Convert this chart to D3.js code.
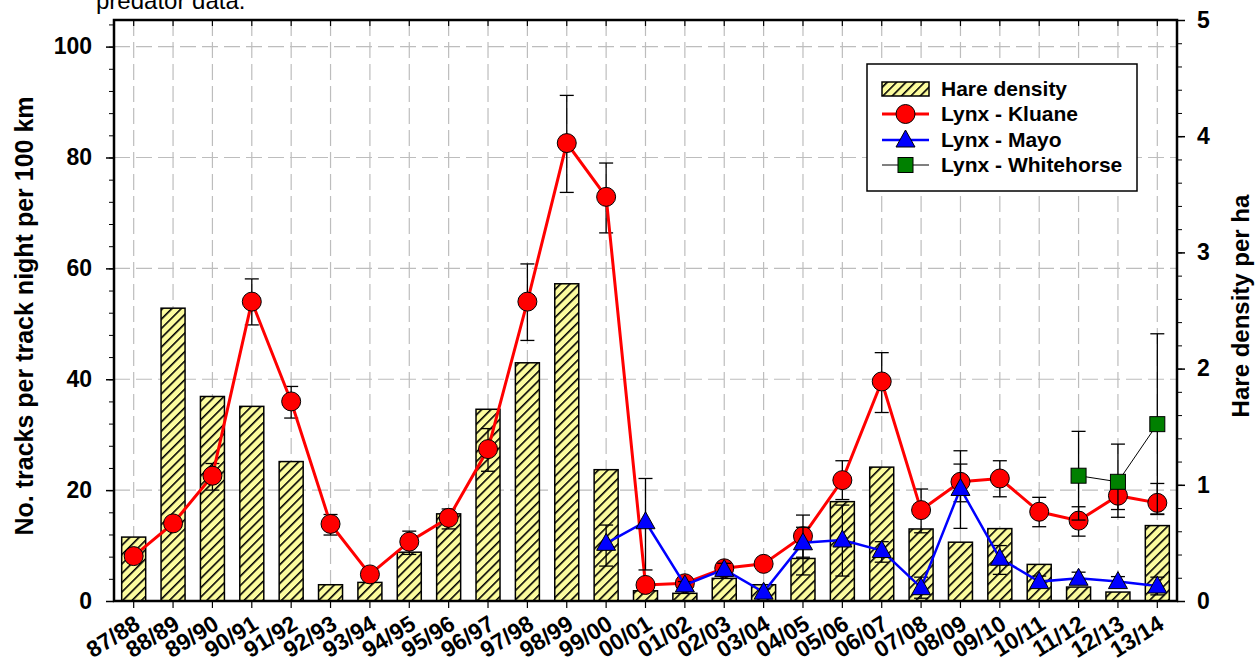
<!DOCTYPE html>
<html>
<head>
<meta charset="utf-8">
<script src="https://cdn.jsdelivr.net/npm/d3@7"></script>
<style>
  body { margin: 0; background: #fff; }
  text { font-family: "Liberation Sans", Arial, sans-serif; }
</style>
</head>
<body>
<div class="chart"></div>
<script>
// seasons along the x axis
var seasons = ["87/88", "88/89", "89/90", "90/91", "91/92", "92/93", "93/94", "94/95", "95/96",
  "96/97", "97/98", "98/99", "99/00", "00/01", "01/02", "02/03", "03/04", "04/05", "05/06",
  "06/07", "07/08", "08/09", "09/10", "10/11", "11/12", "12/13", "13/14"];

// hare density per ha (right axis, bars)
var hareDensity = [0.55, 2.52, 1.76, 1.675, 1.20, 0.14, 0.16, 0.42, 0.75, 1.65, 2.05, 2.73, 1.13,
  0.088, 0.066, 0.195, 0.14, 0.366, 0.855, 1.152, 0.62, 0.506, 0.623, 0.315, 0.12, 0.077, 0.649];

// lynx tracks per track night per 100 km (left axis)
var kluane = [8.1, 14.0, 22.6, 54.0, 36.0, 13.9, 4.8, 10.7, 15.0, 27.4, 54.0, 82.6, 72.9,
  2.9, 3.2, 5.9, 6.7, 11.7, 21.8, 39.6, 16.4, 21.5, 22.1, 16.1, 14.5, 19.0, 17.7];
var kluaneHi = [8.8, 14.8, 24.8, 58.1, 38.7, 15.6, 5.4, 12.6, 16.6, 31.1, 60.8, 91.2, 79.0,
  3.5, 3.8, 6.8, 7.3, 15.5, 25.3, 44.8, 20.2, 24.7, 25.3, 18.7, 17.0, 21.5, 21.2];
var kluaneLo = [7.4, 13.2, 20.0, 49.8, 33.0, 11.9, 4.2, 8.4, 13.0, 23.4, 47.0, 73.7, 66.4,
  2.3, 2.6, 4.9, 6.1, 7.9, 18.3, 34.0, 12.3, 17.9, 18.8, 13.4, 11.7, 16.5, 15.7];

var mayoSeasons = ["99/00", "00/01", "01/02", "02/03", "03/04", "04/05", "05/06", "06/07",
  "07/08", "08/09", "09/10", "10/11", "11/12", "12/13", "13/14"];
var mayo = [10.4, 14.3, 2.9, 5.7, 1.6, 10.5, 11.0, 9.1, 2.4, 20.3, 7.7, 3.5, 4.1, 3.5, 2.7];
var mayoHi = [13.7, 22.1, 3.5, 6.8, 2.2, 13.3, 17.3, 10.7, 4.3, 27.1, 10.0, 4.5, 5.2, 4.4, 4.3];
var mayoLo = [6.3, 5.6, 2.3, 4.6, 1.0, 4.7, 4.5, 7.0, 0.5, 13.1, 4.8, 2.5, 3.0, 2.6, 1.1];

var whitehorseSeasons = ["11/12", "12/13", "13/14"];
var whitehorse = [22.6, 21.5, 31.9];
var whitehorseHi = [30.6, 28.3, 48.2];
var whitehorseLo = [14.6, 15.1, 15.6];

var leftTicks = [0, 20, 40, 60, 80, 100];
var rightTicks = [0, 1, 2, 3, 4, 5];

var svgWidth = 1259;
var svgHeight = 658;
var margin = { top: 20, right: 82, bottom: 57, left: 114 };
var width = svgWidth - margin.left - margin.right;
var height = svgHeight - margin.top - margin.bottom;

var svg = d3.select(".chart")
  .append("svg")
  .attr("width", svgWidth)
  .attr("height", svgHeight);

// hatch pattern for the hare bars
var pattern = svg.append("defs").append("pattern")
  .attr("id", "hatch")
  .attr("patternUnits", "userSpaceOnUse")
  .attr("width", 6.6)
  .attr("height", 6.6)
  .attr("patternTransform", "rotate(45)");
pattern.append("rect").attr("width", 6.6).attr("height", 6.6).attr("fill", "#fcfc9e");
pattern.append("line").attr("x1", 0.8).attr("y1", 0).attr("x2", 0.8).attr("y2", 6.6)
  .attr("stroke", "#000").attr("stroke-width", 1.6);

// cut-off caption at the top
svg.append("text")
  .attr("x", 96)
  .attr("y", 9)
  .style("font-size", "24px")
  .text("predator data.");

var chart = svg.append("g")
  .attr("transform", "translate(" + margin.left + "," + margin.top + ")");

var x = d3.scaleBand().domain(seasons).range([0, width]).padding(0);
var yLeft = d3.scaleLinear().domain([0, 104.8]).range([height, 0]);
var yRight = d3.scaleLinear().domain([0, 5]).range([height, 0]);
var cx = function (s) { return x(s) + x.bandwidth() / 2; };

// dashed grid
chart.append("g").selectAll("line")
  .data(seasons)
  .enter().append("line")
  .attr("x1", cx).attr("x2", cx)
  .attr("y1", 0).attr("y2", height)
  .attr("stroke", "#bdbdbd").attr("stroke-width", 1.2)
  .attr("stroke-dasharray", "16,6");
chart.append("g").selectAll("line")
  .data(leftTicks.slice(1))
  .enter().append("line")
  .attr("x1", 0).attr("x2", width)
  .attr("y1", yLeft).attr("y2", yLeft)
  .attr("stroke", "#bdbdbd").attr("stroke-width", 1.2)
  .attr("stroke-dasharray", "16,6");

// hare bars
var barW = 24;
chart.append("g").selectAll("rect")
  .data(hareDensity)
  .enter().append("rect")
  .attr("x", function (d, i) { return cx(seasons[i]) - barW / 2; })
  .attr("y", function (d) { return yRight(d); })
  .attr("width", barW)
  .attr("height", function (d) { return height - yRight(d); })
  .attr("fill", "url(#hatch)")
  .attr("stroke", "#000")
  .attr("stroke-width", 1.5);

// draws one lynx series: error bars, line, markers
function drawSeries(keys, vals, hi, lo, lineColor, lineWidth, marker) {
  var g = chart.append("g");
  var pts = keys.map(function (k, i) { return { k: k, v: vals[i], hi: hi[i], lo: lo[i] }; });
  var cap = 7;
  pts.forEach(function (p) {
    var px = cx(p.k);
    g.append("line").attr("x1", px).attr("x2", px)
      .attr("y1", yLeft(p.hi)).attr("y2", yLeft(p.lo))
      .attr("stroke", "#000").attr("stroke-width", 1.3);
    [p.hi, p.lo].forEach(function (e) {
      g.append("line").attr("x1", px - cap).attr("x2", px + cap)
        .attr("y1", yLeft(e)).attr("y2", yLeft(e))
        .attr("stroke", "#000").attr("stroke-width", 1.3);
    });
  });
  g.append("path")
    .datum(pts)
    .attr("fill", "none")
    .attr("stroke", lineColor)
    .attr("stroke-width", lineWidth)
    .attr("d", d3.line().x(function (p) { return cx(p.k); }).y(function (p) { return yLeft(p.v); }));
  pts.forEach(function (p) {
    marker(g, cx(p.k), yLeft(p.v));
  });
}

function circleMarker(g, px, py) {
  g.append("circle").attr("cx", px).attr("cy", py).attr("r", 9.5)
    .attr("fill", "#ff0000").attr("stroke", "#000").attr("stroke-width", 1);
}
function triangleMarker(g, px, py) {
  g.append("path")
    .attr("d", "M" + px + "," + (py - 10) + "L" + (px + 9.5) + "," + (py + 7) + "L" + (px - 9.5) + "," + (py + 7) + "Z")
    .attr("fill", "#0000ff").attr("stroke", "#000").attr("stroke-width", 1);
}
function squareMarker(g, px, py) {
  g.append("rect").attr("x", px - 7.5).attr("y", py - 7.5).attr("width", 15).attr("height", 15)
    .attr("fill", "#008000").attr("stroke", "#000").attr("stroke-width", 1);
}

drawSeries(seasons, kluane, kluaneHi, kluaneLo, "#ff0000", 3, circleMarker);
drawSeries(mayoSeasons, mayo, mayoHi, mayoLo, "#0000ff", 2.5, triangleMarker);
drawSeries(whitehorseSeasons, whitehorse, whitehorseHi, whitehorseLo, "#000", 1, squareMarker);

// frame
chart.append("rect")
  .attr("width", width).attr("height", height)
  .attr("fill", "none").attr("stroke", "#000").attr("stroke-width", 2.5);

// left axis
var leftAxis = d3.axisLeft(yLeft).tickValues(leftTicks).tickSize(8).tickPadding(14).tickFormat(d3.format("d"));
var leftMinor = d3.axisLeft(yLeft).tickValues(d3.range(0, 105, 4)).tickSize(5).tickFormat("");
chart.append("g").call(leftMinor).call(function (g) { g.select(".domain").remove(); });
chart.append("g").call(leftAxis)
  .call(function (g) {
    g.select(".domain").remove();
    g.selectAll("line").attr("stroke-width", 1.5);
    g.selectAll("text").style("font-size", "23px").style("font-weight", "bold").attr("fill", "#000");
  });

// right axis
var rightAxis = d3.axisRight(yRight).tickValues(rightTicks).tickSize(8).tickPadding(12).tickFormat(d3.format("d"));
var rightMinor = d3.axisRight(yRight).tickValues(d3.range(0, 5.01, 0.2)).tickSize(5).tickFormat("");
chart.append("g").attr("transform", "translate(" + width + ",0)").call(rightMinor)
  .call(function (g) { g.select(".domain").remove(); });
chart.append("g").attr("transform", "translate(" + width + ",0)").call(rightAxis)
  .call(function (g) {
    g.select(".domain").remove();
    g.selectAll("line").attr("stroke-width", 1.5);
    g.selectAll("text").style("font-size", "23px").style("font-weight", "bold").attr("fill", "#000");
  });

// bottom axis
var bottomAxis = d3.axisBottom(x).tickSize(7).tickFormat("");
chart.append("g").attr("transform", "translate(0," + height + ")").call(bottomAxis)
  .call(function (g) {
    g.select(".domain").remove();
    g.selectAll("line").attr("stroke-width", 1.2);
  });
// ticks along the top edge, pointing inward
chart.append("g").call(d3.axisBottom(x).tickSize(6).tickFormat(""))
  .call(function (g) {
    g.select(".domain").remove();
    g.selectAll("line").attr("stroke-width", 1.2);
  });

chart.append("g").selectAll("text")
  .data(seasons)
  .enter().append("text")
  .attr("transform", function (d) { return "translate(" + (cx(d) + 8) + "," + (height + 27) + ") rotate(-32)"; })
  .attr("text-anchor", "end")
  .style("font-size", "23px")
  .style("font-weight", "bold")
  .text(function (d) { return d; });

// axis titles
svg.append("text")
  .attr("transform", "translate(33,316) rotate(-90)")
  .attr("text-anchor", "middle")
  .style("font-size", "25px")
  .style("font-weight", "bold")
  .text("No. tracks per track night per 100 km");

svg.append("text")
  .attr("transform", "translate(1249,306) rotate(-90)")
  .attr("text-anchor", "middle")
  .style("font-size", "24px")
  .style("font-weight", "bold")
  .text("Hare density per ha");

// legend
var legend = svg.append("g").attr("transform", "translate(867,64)");
legend.append("rect")
  .attr("width", 270).attr("height", 127)
  .attr("fill", "#fff").attr("stroke", "#000").attr("stroke-width", 1.5);

var legendItems = ["Hare density", "Lynx - Kluane", "Lynx - Mayo", "Lynx - Whitehorse"];
var rowY = [25, 50, 76, 101];
legendItems.forEach(function (name, i) {
  var ly = rowY[i];
  if (i === 0) {
    legend.append("rect").attr("x", 15).attr("y", ly - 7).attr("width", 47).attr("height", 14)
      .attr("fill", "url(#hatch)").attr("stroke", "#000").attr("stroke-width", 1.5);
  } else {
    var col = ["#ff0000", "#0000ff", "#000"][i - 1];
    var lw = [3, 2.5, 1][i - 1];
    legend.append("line").attr("x1", 15).attr("x2", 62).attr("y1", ly).attr("y2", ly)
      .attr("stroke", col).attr("stroke-width", lw);
    [circleMarker, triangleMarker, squareMarker][i - 1](legend, 38.5, ly);
  }
  legend.append("text")
    .attr("x", 74).attr("y", ly + 7)
    .style("font-size", "21px")
    .style("font-weight", "bold")
    .text(name);
});
</script>
</body>
</html>
